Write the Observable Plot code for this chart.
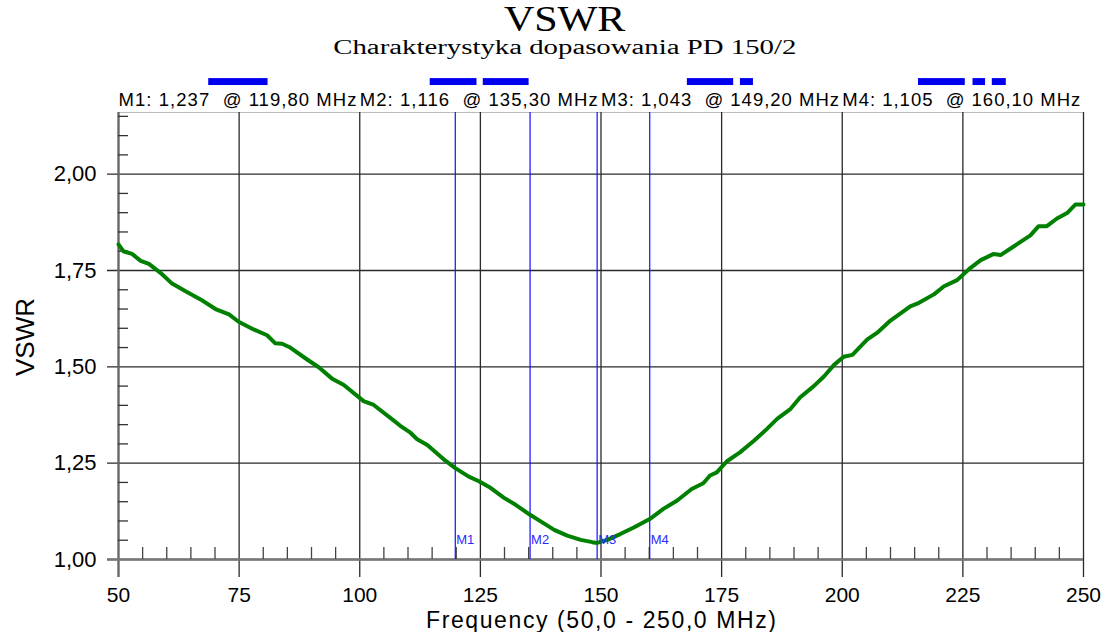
<!DOCTYPE html>
<html><head><meta charset="utf-8">
<script src="https://cdn.jsdelivr.net/npm/d3@7"></script>
<script src="https://cdn.jsdelivr.net/npm/@observablehq/plot@0.6"></script>
<style>
body{margin:0;background:#fff;}
#wrap{position:relative;width:1109px;height:632px;overflow:hidden;background:#fff}
#head{position:relative;height:62px;}
.t{position:absolute;left:0;width:1130px;text-align:center;font-family:"Liberation Serif","Times New Roman",serif;color:#000;white-space:nowrap}
.t span{display:inline-block;transform-origin:50% 50%}
#chart svg{display:block;white-space:pre}
</style></head><body>
<div id="wrap">
<div id="head">
 <div class="t" style="top:5px;font-size:35px;line-height:30px;"><span id="title" style="transform:scaleX(1.2)"></span></div>
 <div class="t" style="top:38px;font-size:20px;line-height:18px;"><span id="subtitle" style="transform:scaleX(1.44)"></span></div>
</div>
<div id="chart"></div>
</div>
<script>
// ---- data ----
const titleText = "VSWR";
const subtitleText = "Charakterystyka dopasowania PD 150/2";
const xLabel = "Frequency (50,0 - 250,0 MHz)";
const yLabel = "VSWR";

const freq = [50, 51, 52.8, 54.6, 56.3, 58.7, 61.1, 63.9, 67, 70.1, 72.9, 74.9, 78, 80.8, 82.5, 83.9, 85.6, 89.1, 91.5, 94.2, 96.7, 100.8, 102.9, 107, 108.4, 110.5, 111.9, 114, 117.4, 119.8, 122.6, 124.7, 127.1, 129.9, 132.3, 135.3, 137.5, 140.3, 143, 145.8, 148.2, 149.2, 151.3, 154, 156.8, 160.1, 163, 165.8, 168.8, 171.2, 172.6, 174, 176.1, 178.8, 181.7, 184.4, 186.5, 189.3, 191.3, 194.1, 196.2, 198.3, 200.3, 202.1, 205.2, 207.2, 210, 214.1, 215.9, 219, 221.1, 223.8, 226.6, 228.7, 231.4, 232.8, 235.6, 239, 240.7, 242.4, 244.5, 246.6, 248.3, 250];
const vswr = [1.818, 1.800, 1.793, 1.775, 1.767, 1.744, 1.716, 1.696, 1.675, 1.650, 1.636, 1.617, 1.597, 1.582, 1.561, 1.560, 1.550, 1.519, 1.499, 1.470, 1.453, 1.411, 1.401, 1.361, 1.347, 1.329, 1.312, 1.297, 1.260, 1.237, 1.215, 1.203, 1.186, 1.160, 1.142, 1.116, 1.099, 1.077, 1.062, 1.051, 1.045, 1.043, 1.051, 1.066, 1.083, 1.105, 1.132, 1.153, 1.183, 1.198, 1.218, 1.226, 1.255, 1.278, 1.308, 1.339, 1.365, 1.391, 1.421, 1.450, 1.475, 1.505, 1.526, 1.531, 1.571, 1.588, 1.620, 1.657, 1.666, 1.688, 1.709, 1.725, 1.757, 1.777, 1.793, 1.790, 1.813, 1.841, 1.865, 1.865, 1.885, 1.899, 1.921, 1.921];

const markerNames = ["M1", "M2", "M3", "M4"];
const markerFreq = [119.8, 135.3, 149.2, 160.1];
const markerVswr = [1.237, 1.116, 1.043, 1.105];

const bandStart = [68.7, 114.6, 125.6, 167.9, 178.9, 215.8, 227.1, 231.1];
const bandEnd   = [81.0, 124.3, 135.1, 177.5, 181.6, 225.5, 229.7, 234.0];

const xMajor = [50, 75, 100, 125, 150, 175, 200, 225, 250];
const xMinor = [55, 60, 65, 70, 80, 85, 90, 95, 105, 110, 115, 120, 130, 135, 140, 145, 155, 160, 165, 170, 180, 185, 190, 195, 205, 210, 215, 220, 230, 235, 240, 245];
const yMajor = [1.00, 1.25, 1.50, 1.75, 2.00];
const yMinor = [1.05, 1.10, 1.15, 1.20, 1.30, 1.35, 1.40, 1.45, 1.55, 1.60, 1.65, 1.70, 1.80, 1.85, 1.90, 1.95, 2.05, 2.10, 2.15];

const xDomain = [50, 250];
const yDomain = [1.0, 2.16];

// ---- helpers ----
const comma = (v, d) => v.toFixed(d).replace(".", ",");
document.getElementById("title").textContent = titleText;
document.getElementById("subtitle").textContent = subtitleText;

const idx = markerNames.map((_, i) => i);
const bandIdx = bandStart.map((_, i) => i);
const yTop = yDomain[1];
const grid = "#2a2a2a";
const rowText = i => `${markerNames[i]}: ${comma(markerVswr[i], 3)}  @ ${comma(markerFreq[i], 2)} MHz`;

const chart = Plot.plot({
  width: 1109,
  height: 570,
  marginTop: 50,
  marginBottom: 73,
  marginLeft: 118,
  marginRight: 26,
  style: {fontFamily: "'Liberation Sans', Arial, sans-serif", background: "#fff", color: "#000"},
  x: {domain: xDomain, axis: null},
  y: {domain: yDomain, axis: null},
  marks: [
    Plot.ruleY([yTop], {stroke: "#bbb", strokeWidth: 1}),
    Plot.ruleX(xMajor, {stroke: grid, strokeWidth: 1.3, insetBottom: -18}),
    Plot.ruleY(yMajor, {stroke: grid, strokeWidth: 1.3, insetLeft: -11}),
    Plot.ruleX([xDomain[0]], {stroke: "#666", strokeWidth: 2.2, insetBottom: -18}),
    Plot.ruleY([yDomain[0]], {stroke: "#777", strokeWidth: 2.5, insetLeft: -11}),
    Plot.ruleY(yMinor, {x1: xDomain[0], x2: xDomain[0], insetRight: -10, stroke: "#333", strokeWidth: 1.3}),
    Plot.ruleX(xMinor, {y1: yDomain[0], y2: yDomain[0], insetTop: -12, stroke: "#444", strokeWidth: 1.3}),
    // marker lines
    Plot.ruleX(idx, {x: i => markerFreq[i], stroke: "#1010ff", strokeWidth: 1.2,
      strokeDasharray: i => i === 0 ? null : "1,1"}),
    // curve
    Plot.line({length: freq.length}, {x: freq, y: vswr, stroke: "#008000", strokeWidth: 4, strokeLinejoin: "round"}),
    // marker labels at bottom
    Plot.text(idx, {x: i => markerFreq[i], text: i => markerNames[i], frameAnchor: "bottom",
      textAnchor: "start", lineAnchor: "bottom", dx: 1, dy: -16, fontSize: 13, fill: "#2a2aff"}),
    // marker readout row above plot
    Plot.text(idx, {x: i => xDomain[0] + i * (xDomain[1] - xDomain[0]) / markerNames.length,
      text: rowText, frameAnchor: "top", textAnchor: "start", lineAnchor: "bottom", dy: -7, fontSize: 18.5, fill: "#000"}),
    // blue band bars
    Plot.rect(bandIdx, {x1: i => bandStart[i], x2: i => bandEnd[i], y1: yTop + 0.070, y2: yTop + 0.088, fill: "#0000ee"}),
    // tick labels
    Plot.text(xMajor, {x: d => d, text: d => String(d), frameAnchor: "bottom", lineAnchor: "top", dy: 28, fontSize: 21}),
    Plot.text(yMajor, {y: d => d, text: d => comma(d, 2), frameAnchor: "left", textAnchor: "end", lineAnchor: "middle", dx: -22, fontSize: 22}),
    // axis labels
    Plot.text([xLabel], {text: d => d, frameAnchor: "bottom", lineAnchor: "top", dy: 52, fontSize: 23}),
    Plot.text([yLabel], {text: d => d, frameAnchor: "left", rotate: -90, lineAnchor: "middle", dx: -93, dy: 40, fontSize: 26})
  ]
});
document.getElementById("chart").appendChild(chart);

// stretch readout row & x label to the widths of the original
const rows = new Set(idx.map(rowText));
d3.select(chart).selectAll("text")
  .filter(function() { return rows.has(this.textContent); })
  .attr("textLength", 238).attr("lengthAdjust", "spacing");
d3.select(chart).selectAll("text")
  .filter(function() { return this.textContent === xLabel; })
  .attr("textLength", 350).attr("lengthAdjust", "spacing");
</script>
</body></html>
